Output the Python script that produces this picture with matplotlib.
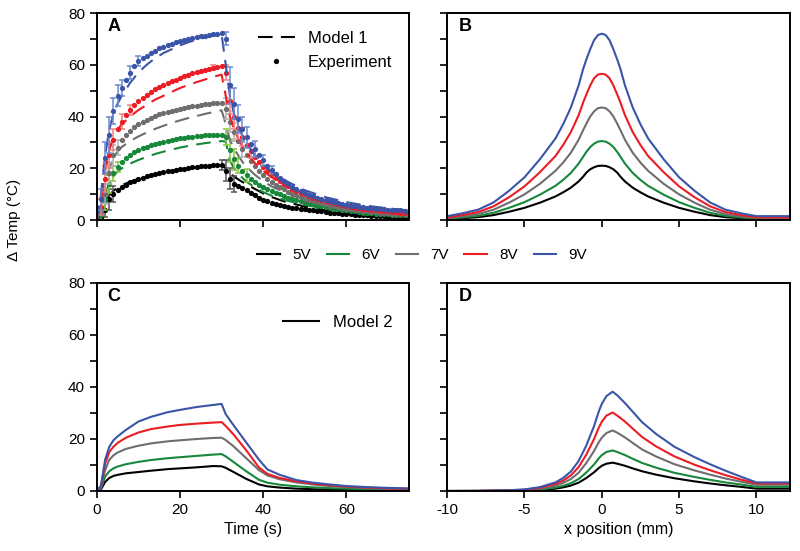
import numpy as np
import matplotlib
matplotlib.use("Agg")
import matplotlib.pyplot as plt
from matplotlib.lines import Line2D

plt.rcParams['font.family'] = ['Liberation Sans', 'DejaVu Sans']
plt.rcParams['axes.unicode_minus'] = False

voltages = ['5V', '6V', '7V', '8V', '9V']
colors = ['#000000', '#17873a', '#6e6e6e', '#ec1c24', '#3a55a8']
err_colors = ['#555555', '#8cc63f', '#b0b0b0', '#f08080', '#6a8ad0']

# ---- panel A: experiment (1 s sampling) ----
exp_t = np.arange(0, 76)
exp_5v = [0, 1, 4, 8, 10, 11.5, 12.7, 13.7, 14.5, 15.2, 15.8, 16.4, 16.9, 17.4, 17.8, 18.2, 18.5, 18.8, 19.1, 19.4,
          19.7, 19.9, 20.1, 20.3, 20.5, 20.7, 20.9, 21, 21.1, 21.2, 21.3,
          19, 16, 14, 13, 12.2, 11.5, 10.5, 9.5, 8.5, 7.8, 7.2, 6.7, 6.2, 5.8, 5.4, 5.1, 4.8, 4.5, 4.3, 4.1,
          3.9, 3.7, 3.5, 3.3, 3.1, 2.9, 2.7, 2.6, 2.4, 2.3, 2.2, 2.1, 2.0, 1.9, 1.8, 1.7, 1.6, 1.5, 1.4, 1.3,
          1.2, 1.1, 1.0, 0.9, 0.8]
exp_6v = [0, 2, 8, 14, 18, 20.5, 22.5, 24, 25.2, 26.2, 27, 27.7, 28.3, 28.9, 29.4, 29.9, 30.3, 30.7, 31, 31.3,
          31.6, 31.8, 32, 32.2, 32.4, 32.6, 32.7, 32.8, 32.9, 33, 33,
          32, 27, 23.5, 21, 19, 17.3, 15.8, 14.5, 13.6, 12.9, 12, 11.2, 10.5, 9.9, 9.3, 8.7, 8.2, 7.7, 7.2, 6.8,
          6.4, 6.0, 5.6, 5.3, 5.0, 4.7, 4.4, 4.1, 3.9, 3.7, 3.5, 3.3, 3.1, 2.9, 2.8, 2.6, 2.5, 2.4, 2.3, 2.2,
          2.1, 2.0, 1.9, 1.8, 1.7]
exp_7v = [0, 3, 10, 18, 25, 28, 31, 33, 34.5, 35.8, 37, 38, 38.8, 39.5, 40.2, 40.8, 41.3, 41.8, 42.2, 42.6,
          43, 43.3, 43.6, 43.9, 44.2, 44.5, 44.7, 44.9, 45.1, 45.2, 45.3,
          43, 38, 34, 30.5, 27.5, 25, 22.8, 20.8, 19, 17.4, 16, 14.8, 13.7, 12.7, 11.8, 11, 10.2, 9.5, 8.9, 8.3,
          7.8, 7.3, 6.8, 6.4, 6.0, 5.6, 5.3, 5.0, 4.7, 4.4, 4.2, 4.0, 3.8, 3.6, 3.4, 3.2, 3.1, 2.9, 2.8, 2.6,
          2.5, 2.4, 2.3, 2.2, 2.1]
exp_8v = [0, 5, 16, 25, 31, 35, 38, 40.5, 42.5, 44.5, 46, 47.3, 48.5, 49.5, 50.5, 51.4, 52.2, 53, 53.7, 54.3,
          55, 55.6, 56.2, 56.7, 57.2, 57.7, 58.1, 58.5, 58.9, 59.3, 59.6,
          57, 46, 40, 35.5, 32, 29, 26.5, 24.2, 22.3, 20.6, 19, 17.6, 16.3, 15.1, 14, 13, 12.1, 11.3, 10.6, 9.9,
          9.3, 8.7, 8.2, 7.7, 7.2, 6.8, 6.4, 6.0, 5.7, 5.4, 5.1, 4.8, 4.6, 4.4, 4.2, 4.0, 3.8, 3.6, 3.5, 3.3,
          3.2, 3.0, 2.9, 2.8, 2.7]
exp_9v = [0, 8, 24, 33, 42, 48, 51, 54, 57, 59.5, 61.5, 62.5, 63.5, 64.5, 65.5, 66.3, 67, 67.6, 68.2, 68.7,
          69.2, 69.6, 70, 70.4, 70.7, 71, 71.3, 71.6, 71.8, 72, 72.2,
          70, 52, 45, 39, 35, 32, 29.5, 27.5, 25, 23, 21, 19.2, 17.6, 16.2, 15, 13.8, 12.8, 11.9, 11.1, 10.4,
          9.7, 9.1, 8.6, 8.1, 7.6, 7.2, 6.8, 6.4, 6.1, 5.8, 5.5, 5.3, 5.1, 4.9, 4.7, 4.5, 4.4, 4.2, 4.1, 4.0,
          3.9, 3.8, 3.7, 3.6, 3.5]
exp_series = [exp_5v, exp_6v, exp_7v, exp_8v, exp_9v]

# error bars (only where visible)
err_t = [[2, 3, 4, 30, 31, 32, 33],
         [1, 2, 3, 4, 5, 31, 32, 33, 34, 36],
         [2, 3, 4, 5, 31, 32, 33, 35],
         [1, 2, 3, 4, 6, 8, 28, 31, 32, 33, 34, 35, 37],
         [1, 2, 3, 4, 5, 6, 8, 10, 31, 32, 33, 34, 35, 36, 38, 40, 42]]
err_v = [[3, 4, 3, 2, 4, 4, 3],
         [3, 4, 3.5, 3, 2, 3, 4.5, 4, 3, 2.5],
         [4, 4, 4, 3, 4, 4, 3.5, 3],
         [3, 5, 5, 4, 3, 2, 1, 3, 5, 5, 4, 3.5, 2.5],
         [4, 6, 7, 5, 4, 3, 2.5, 2, 2.5, 7, 6, 5.5, 5, 4, 3, 2, 1.5]]

# ---- panel A: model 1 ----
m1_t = [0, 1, 2, 3, 4, 5, 6, 8, 10, 12, 14, 16, 18, 20, 22, 24, 26, 28, 30, 31, 32, 33, 34, 35, 36, 38, 40,
        42, 45, 50, 55, 60, 65, 70, 75]
m1_5v = [0, 2, 6.5, 9.5, 11.3, 12.5, 13.4, 14.8, 15.9, 16.8, 17.6, 18.3, 18.9, 19.4, 19.9, 20.3, 20.6, 20.9, 21.1,
         20, 18, 16.8, 15.7, 14.7, 13.8, 12, 10.3, 8.9, 7.2, 5.2, 3.8, 2.8, 2.1, 1.6, 1.2]
m1_6v = [0, 3, 10, 14.5, 17, 18.8, 20, 21.8, 23.2, 24.4, 25.5, 26.4, 27.2, 28, 28.6, 29.2, 29.7, 30.1, 30.5,
         30.3, 23, 20, 18, 16.3, 14.8, 12.6, 10.8, 9.4, 7.8, 5.8, 4.4, 3.4, 2.7, 2.2, 1.8]
m1_7v = [0, 5, 14, 20, 24, 26.5, 28.2, 30.5, 32.3, 33.8, 35.2, 36.4, 37.5, 38.5, 39.4, 40.2, 41, 41.7, 42.4,
         37, 31, 27.5, 25, 22.5, 20.5, 17.5, 15, 13, 10.8, 8, 6.1, 4.7, 3.7, 3.0, 2.5]
m1_8v = [0, 7, 19, 27, 32, 35, 37, 40, 42.5, 44.5, 46.5, 48, 49.5, 51, 52.2, 53.3, 54.3, 55.3, 56.2,
         48, 40, 35, 31.5, 28.5, 26, 22, 19, 16.5, 13.7, 10.2, 7.8, 6.0, 4.8, 3.9, 3.2]
m1_9v = [0, 10, 25, 35, 41, 45, 48, 53, 57, 60, 62.5, 64.5, 66, 67.5, 68.7, 69.7, 70.5, 71.2, 71.7,
         60, 48, 41, 36, 32.5, 29.5, 25, 21.5, 18.7, 15.5, 11.5, 8.8, 6.9, 5.5, 4.5, 3.7]
m1_series = [m1_5v, m1_6v, m1_7v, m1_8v, m1_9v]

# ---- panel B: model 1 profile ----
xb = [-10, -9, -8, -7, -6, -5, -4, -3, -2.5, -2, -1.5, -1.2, -1, -0.75, -0.5, -0.25, 0,
      0.25, 0.5, 0.75, 1, 1.2, 1.5, 2, 2.5, 3, 4, 5, 6, 7, 8, 9, 10, 12.2]
b_5v = [0.3, 0.7, 1.1, 1.9, 3.2, 4.7, 6.7, 9.1, 10.7, 12.5, 14.9, 16.8, 18.3, 19.6, 20.4, 20.9, 21,
        20.9, 20.4, 19.6, 18.3, 16.8, 14.9, 12.5, 10.7, 9.1, 6.7, 4.7, 3.2, 1.9, 1.1, 0.7, 0.3, 0.3]
b_6v = [0.5, 1.0, 1.6, 2.8, 4.7, 6.9, 9.8, 13.2, 15.5, 18.2, 21.8, 24.5, 26.3, 28.2, 29.5, 30.3, 30.5,
        30.3, 29.5, 28.2, 26.3, 24.5, 21.8, 18.2, 15.5, 13.2, 9.8, 6.9, 4.7, 2.8, 1.6, 1.0, 0.5, 0.5]
b_7v = [0.8, 1.4, 2.3, 4, 6.7, 9.9, 14, 19, 22.2, 26, 31, 34.8, 37.2, 40, 42, 43.2, 43.5,
        43.2, 42, 40, 37.2, 34.8, 31, 26, 22.2, 19, 14, 9.9, 6.7, 4, 2.3, 1.4, 0.8, 0.8]
b_8v = [1.0, 1.9, 3.1, 5.3, 8.8, 13, 18.5, 24.7, 29, 34, 40.5, 45.5, 48.5, 52, 54.8, 56.2, 56.5,
        56.2, 54.8, 52, 48.5, 45.5, 40.5, 34, 29, 24.7, 18.5, 13, 8.8, 5.3, 3.1, 1.9, 1.0, 1.0]
b_9v = [1.5, 2.6, 4.0, 6.8, 11.3, 16.5, 23.5, 31.5, 37, 43.5, 52, 58.5, 62, 66, 69.5, 71.5, 72,
        71.5, 69.5, 66, 62, 58.5, 52, 43.5, 37, 31.5, 23.5, 16.5, 11.3, 6.8, 4.0, 2.6, 1.5, 1.5]
b_series = [b_5v, b_6v, b_7v, b_8v, b_9v]

# ---- panel C: model 2 ----
m2_t = [0, 1, 2, 3, 4, 5, 7, 10, 13, 17, 20, 24, 28, 30, 31, 33, 36, 39, 41, 44, 48, 52, 56, 60, 65, 70, 75]
m2_5v = [0, 0.6, 3.5, 5, 5.8, 6.2, 6.8, 7.3, 7.8, 8.4, 8.7, 9.1, 9.6, 9.5, 8.9, 7.2, 4.6, 2.5, 1.8, 1.3, 0.9,
         0.7, 0.5, 0.4, 0.3, 0.2, 0.2]
m2_6v = [0, 1, 5.5, 7.6, 8.7, 9.4, 10.3, 11.2, 11.9, 12.6, 13, 13.5, 14, 14.2, 13.3, 11, 7.5, 4.3, 3.2, 2.4, 1.8,
         1.4, 1.1, 0.9, 0.7, 0.5, 0.4]
m2_7v = [0, 1.4, 8, 12, 13.7, 14.8, 16.2, 17.4, 18.3, 19.1, 19.5, 20, 20.4, 20.5, 19.6, 17, 12.5, 8, 6, 4.5,
         3.3, 2.5, 1.9, 1.5, 1.1, 0.9, 0.7]
m2_8v = [0, 1.8, 10.5, 15, 17, 18.5, 20.5, 22.5, 23.8, 24.8, 25.4, 25.9, 26.3, 26.5, 25, 21.5, 15.5, 9, 6.6,
         5, 3.7, 2.8, 2.2, 1.7, 1.3, 1.0, 0.8]
m2_9v = [0, 2, 12, 17, 19.5, 21, 23.5, 26.7, 28.5, 30.3, 31.2, 32.3, 33.1, 33.5, 29.5, 25, 18.5, 12, 8.3, 6.2,
         4.2, 3.2, 2.5, 1.9, 1.5, 1.2, 1.0]
m2_series = [m2_5v, m2_6v, m2_7v, m2_8v, m2_9v]

# ---- panel D: model 2 profile ----
xd = [-10, -8, -6, -5, -4, -3, -2.5, -2, -1.5, -1, -0.5, -0.2, 0, 0.3, 0.7, 1, 1.5, 2, 2.6, 3.5, 4.7,
      6, 7, 8, 9, 10, 12.2]
d_5v = [0, 0.01, 0.08, 0.17, 0.4, 0.9, 1.4, 2.1, 3.2, 5, 7.2, 8.8, 9.7, 10.5, 10.9, 10.5, 9.7, 8.7, 7.6,
        6.3, 4.9, 3.7, 2.9, 2.2, 1.6, 0.9, 0.9]
d_6v = [0, 0.02, 0.12, 0.25, 0.6, 1.3, 2, 3, 4.6, 7.1, 10.2, 12.5, 13.8, 15, 15.6, 15, 13.8, 12.4, 10.8,
        9, 7, 5.4, 4.3, 3.3, 2.5, 1.6, 1.6]
d_7v = [0, 0.03, 0.2, 0.4, 0.9, 2, 3.1, 4.6, 7, 10.8, 15.4, 18.7, 20.5, 22.3, 23.3, 22.4, 20.6, 18.5, 16,
        13.3, 10.3, 7.9, 6.3, 4.8, 3.6, 2.4, 2.4]
d_8v = [0, 0.04, 0.25, 0.5, 1.2, 2.7, 4, 6, 9.2, 14, 20, 24.3, 26.6, 29, 30.2, 29, 26.7, 24, 20.8, 17.2,
        13.3, 10.1, 8, 6.1, 4.4, 2.9, 2.9]
d_9v = [0, 0.05, 0.3, 0.6, 1.5, 3.3, 5, 7.5, 11.5, 17.5, 25, 30.5, 33.5, 36.5, 38.2, 36.8, 33.8, 30.5, 26.5,
        22, 17, 13, 10.3, 7.8, 5.5, 3.3, 3.3]
d_series = [d_5v, d_6v, d_7v, d_8v, d_9v]


fig = plt.figure(figsize=(8, 5.51), dpi=100)
axA = fig.add_axes([0.121, 0.6007, 0.39, 0.3757])
axB = fig.add_axes([0.559, 0.6007, 0.429, 0.3757])
axC = fig.add_axes([0.121, 0.1089, 0.39, 0.3775])
axD = fig.add_axes([0.559, 0.1089, 0.429, 0.3775])

for i in range(5):
    y = np.array(exp_series[i])
    axA.plot(m1_t, m1_series[i], color=colors[i], lw=1.5, dashes=(7, 4))
    et = err_t[i]
    axA.errorbar(et, y[et], yerr=err_v[i], fmt='none', ecolor=err_colors[i], elinewidth=1.1,
                 capsize=2.5, capthick=1.1)
    axA.plot(exp_t, y, 'o', color=colors[i], ms=3.8, mew=0)
    axB.plot(xb, b_series[i], color=colors[i], lw=1.5)
    axC.plot(m2_t, m2_series[i], color=colors[i], lw=1.5)
    axD.plot(xd, d_series[i], color=colors[i], lw=1.5)

for ax in (axA, axC):
    ax.set_xlim(0, 75)
    ax.set_xticks([0, 20, 40, 60])
for ax in (axB, axD):
    ax.set_xlim(-10, 12.2)
    ax.set_xticks([-10, -5, 0, 5, 10])

for ax in (axA, axB, axC, axD):
    ax.set_ylim(0, 80)
    ax.set_yticks(range(0, 81, 10))
    ax.set_yticklabels(['0', '', '20', '', '40', '', '60', '', '80'])
    ax.tick_params(direction='out', length=5, width=1.2, labelsize=11)
    for s in ax.spines.values():
        s.set_linewidth(1.4)

axA.tick_params(labelbottom=False)
axB.tick_params(labelbottom=False, labelleft=False)
axD.tick_params(labelleft=False)

axC.set_xlabel('Time (s)', fontsize=11.5)
axD.set_xlabel('x position (mm)', fontsize=11.5)
fig.text(0.018, 0.60, 'Δ Temp (°C)', rotation=90, ha='center', va='center', fontsize=11)

for ax, lab in zip((axA, axB, axC, axD), 'ABCD'):
    ax.text(0.033, 0.975, lab, transform=ax.transAxes, ha='left', va='top', fontsize=13, fontweight='bold')

h_m1 = Line2D([], [], color='black', lw=1.5, dashes=(7, 4))
h_exp = Line2D([], [], color='black', marker='o', ls='none', ms=3.8, mew=0)
axA.legend([h_m1, h_exp], ['Model 1', 'Experiment'], loc='upper right', bbox_to_anchor=(0.995, 0.985),
           frameon=False, fontsize=12, handlelength=2.2, handletextpad=0.8, labelspacing=0.55)
h_m2 = Line2D([], [], color='black', lw=1.5)
axC.legend([h_m2], ['Model 2'], loc='upper right', bbox_to_anchor=(0.995, 0.92),
           frameon=False, fontsize=12, handlelength=2.2, handletextpad=0.8)

v_handles = [Line2D([], [], color=c, lw=1.5) for c in colors]
fig.legend(v_handles, voltages, loc='center', bbox_to_anchor=(0.528, 1 - 255 / 551), ncol=5,
           frameon=False, fontsize=11, handlelength=1.5, handletextpad=0.8, columnspacing=1.0)

plt.savefig('out.png', dpi=100)
